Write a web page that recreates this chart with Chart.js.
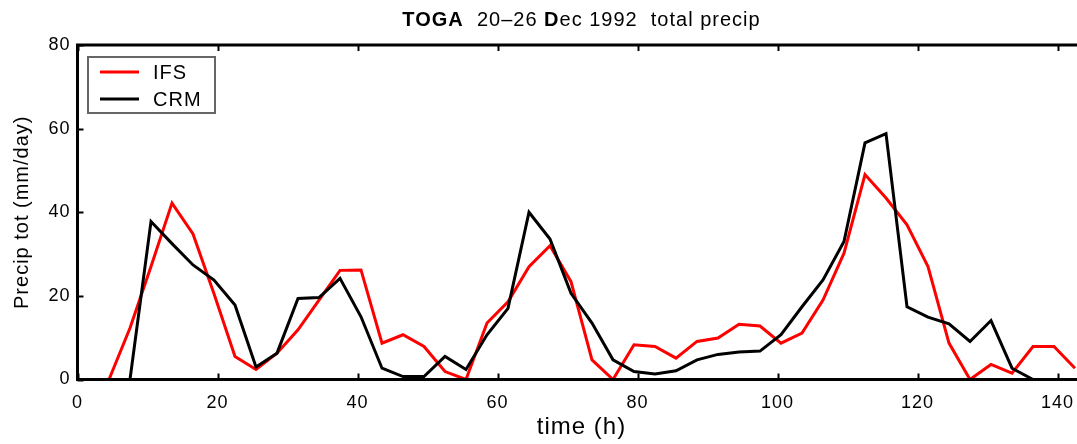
<!DOCTYPE html>
<html>
<head>
<meta charset="utf-8">
<title>TOGA total precip</title>
<script src="https://cdn.jsdelivr.net/npm/chart.js@4.4.1/dist/chart.umd.min.js"></script>
<style>
  html, body { margin: 0; padding: 0; background: #fff; overflow: hidden; }
  canvas { display: block; }
</style>
</head>
<body>
<canvas id="precipChart" width="1090" height="444"></canvas>
<script>
// 3-hourly totals, plotted at the middle of each interval (h)
const hours = [1.5, 4.5, 7.5, 10.5, 13.5, 16.5, 19.5, 22.5, 25.5, 28.5, 31.5, 34.5,
               37.5, 40.5, 43.5, 46.5, 49.5, 52.5, 55.5, 58.5, 61.5, 64.5, 67.5, 70.5,
               73.5, 76.5, 79.5, 82.5, 85.5, 88.5, 91.5, 94.5, 97.5, 100.5, 103.5, 106.5,
               109.5, 112.5, 115.5, 118.5, 121.5, 124.5, 127.5, 130.5, 133.5, 136.5, 139.5, 142.5];

const ifsPrecip = [0, 0, 12.3, 27, 42.2, 34.8, 20.5, 5.5, 2.4, 6.3, 11.9, 19.0,
                   26.1, 26.2, 8.7, 10.7, 7.9, 1.9, 0, 13.5, 18.6, 27.0, 32.0, 23.4,
                   4.7, 0, 8.3, 7.9, 5.1, 9.1, 9.9, 13.2, 12.8, 8.7, 11.1, 19.0,
                   30.2, 49.0, 43.4, 37.0, 27.0, 8.7, 0, 3.6, 1.5, 7.9, 7.9, 2.7];

const crmPrecip = [0, 0, 0, 37.8, 32.5, 27.4, 23.8, 17.8, 3.0, 6.3, 19.4, 19.6,
                   24.2, 15.0, 2.7, 0.7, 0.7, 5.5, 2.4, 10.7, 17.0, 40.0, 33.6, 20.6,
                   13.5, 4.7, 1.9, 1.3, 2.1, 4.7, 6.0, 6.6, 6.8, 10.7, 17.4, 23.8,
                   33.0, 56.6, 58.8, 17.4, 14.9, 13.3, 9.1, 14.1, 2.7, 0, 0, 0];

const xTicks = [0, 20, 40, 60, 80, 100, 120, 140];
const yTicks = [0, 20, 40, 60, 80];

// title pieces: [text, bold]
const titleRuns = [['TOGA', true], ['  20\u201326 ', false], ['D', true], ['ec 1992  total precip', false]];

const FONT = '"Liberation Sans", Arial, Helvetica, sans-serif';

// slightly looser text, like the old printer fonts
const looseText = {
    id: 'looseText',
    beforeUpdate(chart) { chart.ctx.letterSpacing = '1px'; },
    beforeDraw(chart) { chart.ctx.letterSpacing = '1px'; }
};

// title with mixed weights, centred over the axes
const runTitle = {
    id: 'runTitle',
    afterDraw(chart) {
        const { ctx, chartArea: a } = chart;
        ctx.save();
        ctx.fillStyle = '#000';
        ctx.textBaseline = 'middle';
        ctx.textAlign = 'left';
        const fontOf = b => (b ? 'bold ' : '') + '20px ' + FONT;
        let total = 0;
        const widths = titleRuns.map(([t, b]) => {
            ctx.font = fontOf(b);
            const w = ctx.measureText(t).width;
            total += w;
            return w;
        });
        let tx = (a.left + a.right) / 2 - total / 2;
        titleRuns.forEach(([t, b], i) => {
            ctx.font = fontOf(b);
            ctx.fillText(t, tx, 20.5);
            tx += widths[i];
        });
        ctx.restore();
    }
};

// matlab-style frame: full box with ticks pointing inwards on all four sides
const boxFrame = {
    id: 'boxFrame',
    afterDatasetsDraw(chart) {
        const { ctx, chartArea: a, scales: { x, y } } = chart;
        const len = 6;
        ctx.save();
        ctx.strokeStyle = '#000';
        ctx.lineWidth = 2;
        ctx.beginPath();
        xTicks.forEach(v => {
            const px = Math.round(x.getPixelForValue(v)) + 0.5;
            ctx.moveTo(px, a.bottom); ctx.lineTo(px, a.bottom - len);
            ctx.moveTo(px, a.top); ctx.lineTo(px, a.top + len);
        });
        yTicks.forEach(v => {
            const py = Math.round(y.getPixelForValue(v)) + 0.5;
            ctx.moveTo(a.left, py); ctx.lineTo(a.left + len, py);
            ctx.moveTo(a.right, py); ctx.lineTo(a.right - len, py);
        });
        ctx.stroke();
        ctx.lineWidth = 3;
        ctx.strokeRect(a.left, a.top, a.right - a.left, a.bottom - a.top);
        ctx.restore();
    }
};

// legend box inside the axes, top left
const boxLegend = {
    id: 'boxLegend',
    afterDraw(chart) {
        const { ctx, chartArea: a } = chart;
        const bx = a.left + 10.5, by = a.top + 12, bw = 127, bh = 56;
        ctx.save();
        ctx.fillStyle = '#fff';
        ctx.fillRect(bx, by, bw, bh);
        ctx.strokeStyle = '#666';
        ctx.lineWidth = 2;
        ctx.strokeRect(bx, by, bw, bh);
        ctx.font = '20px ' + FONT;
        ctx.textBaseline = 'middle';
        ctx.textAlign = 'left';
        chart.data.datasets.forEach((ds, i) => {
            const ly = by + 15 + i * 27;
            ctx.strokeStyle = ds.borderColor;
            ctx.lineWidth = 3;
            ctx.beginPath();
            ctx.moveTo(bx + 12, ly);
            ctx.lineTo(bx + 51, ly);
            ctx.stroke();
            ctx.fillStyle = '#000';
            ctx.fillText(ds.label, bx + 65, ly + 1);
        });
        ctx.restore();
    }
};

const ctx = document.getElementById('precipChart').getContext('2d');

new Chart(ctx, {
    type: 'line',
    data: {
        datasets: [
            {
                label: 'IFS',
                data: hours.map((h, i) => ({ x: h, y: ifsPrecip[i] })),
                borderColor: '#ff0000',
                borderWidth: 3,
                order: 2
            },
            {
                label: 'CRM',
                data: hours.map((h, i) => ({ x: h, y: crmPrecip[i] })),
                borderColor: '#000000',
                borderWidth: 3,
                order: 1
            }
        ]
    },
    options: {
        responsive: false,
        animation: false,
        devicePixelRatio: 1,
        layout: { padding: { top: 45, right: 4.5, bottom: 0, left: 0 } },
        elements: {
            point: { radius: 0, hoverRadius: 0 },
            line: { tension: 0, borderCapStyle: 'butt', borderJoinStyle: 'miter', fill: false }
        },
        plugins: {
            legend: { display: false },
            tooltip: { enabled: false },
            title: { display: false }
        },
        scales: {
            x: {
                type: 'linear',
                min: 0,
                max: 144,
                afterBuildTicks: s => { s.ticks = xTicks.map(v => ({ value: v })); },
                afterFit: s => { s.height = 64.5; },
                grid: { display: false, drawTicks: false },
                border: { display: false },
                ticks: {
                    color: '#000',
                    padding: 13,
                    maxRotation: 0,
                    font: { family: FONT, size: 18 }
                },
                title: {
                    display: true,
                    text: 'time (h)',
                    color: '#000',
                    font: { family: FONT, size: 24 },
                    padding: { top: 0, bottom: 2 }
                }
            },
            y: {
                type: 'linear',
                min: 0,
                max: 80,
                afterBuildTicks: s => { s.ticks = yTicks.map(v => ({ value: v })); },
                afterFit: s => { s.width = 77.5; },
                grid: { display: false, drawTicks: false },
                border: { display: false },
                ticks: {
                    color: '#000',
                    padding: 7,
                    font: { family: FONT, size: 18 }
                },
                title: {
                    display: true,
                    text: 'Precip tot (mm/day)',
                    color: '#000',
                    font: { family: FONT, size: 20 },
                    padding: { top: 10, bottom: 0 }
                }
            }
        }
    },
    plugins: [looseText, runTitle, boxFrame, boxLegend]
});
</script>
</body>
</html>
